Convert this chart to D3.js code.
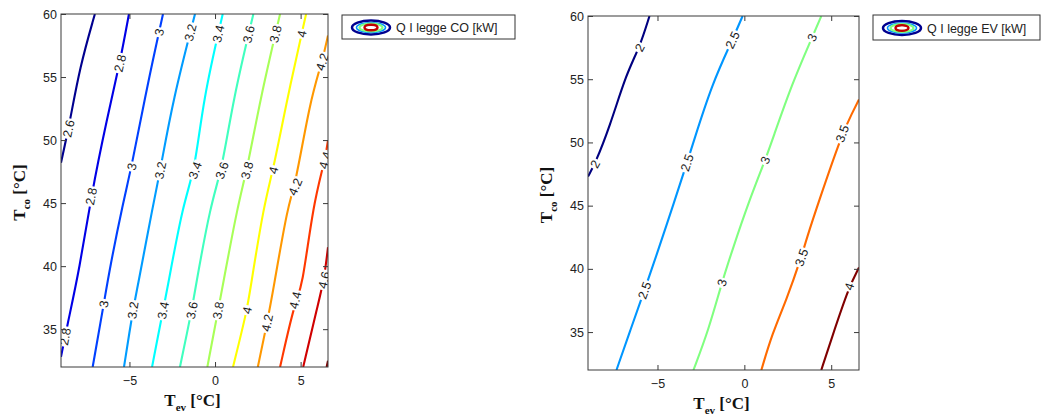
<!DOCTYPE html>
<html><head><meta charset="utf-8">
<script src="https://cdn.jsdelivr.net/npm/d3@7"></script>
<style>body{margin:0;background:#fff}</style>
</head><body><svg id="c" width="1046" height="416"></svg>
<script>
// ---------- data ----------
const xTicks = [-5, 0, 5];
const yTicks = [35, 40, 45, 50, 55, 60];
const xDomain = [-9, 6.6];
const yDomain = [32, 60];

// Left panel: Q I legge CO [kW]
const coLevels = [2.6, 2.8, 3, 3.2, 3.4, 3.6, 3.8, 4, 4.2, 4.4, 4.6, 4.8];
const coColors = ["#00008f", "#0000e6", "#0040ff", "#009cff", "#00ffff", "#40ffbf",
                  "#a8ff58", "#ffff00", "#ff9800", "#ff3800", "#d00000", "#800000"];
const coLines = [
  [[-9.0,48.2],[-8.5,51.3],[-7.9,55.8],[-7.02,60]],
  [[-9.0,32.8],[-8.65,35.2],[-7.9,39.9],[-7.25,45.5],[-6.3,51.8],[-5.56,56.1],[-5.03,60]],
  [[-7.15,32],[-6.5,37.0],[-6.14,39.9],[-5.38,45.0],[-4.87,47.9],[-3.98,54.2],[-3.04,60]],
  [[-5.32,32],[-4.8,36.5],[-4.56,38.1],[-3.6,45.0],[-3.2,47.6],[-2.46,53.2],[-1.17,60]],
  [[-3.68,32],[-3.04,36.5],[-2.8,38.1],[-1.87,45.0],[-1.17,47.6],[-0.70,53.2],[0.45,60]],
  [[-2.05,32],[-1.36,36.5],[-1.17,38.1],[-0.25,45.0],[0.40,47.6],[1.05,53.2],[2.24,60]],
  [[-0.45,32],[0.18,36.5],[0.40,38.1],[1.35,45.0],[1.87,47.6],[2.63,53.2],[3.80,60]],
  [[1.05,32],[1.87,36.5],[2.05,38.1],[2.87,45.0],[3.40,47.6],[4.20,53.2],[5.32,60]],
  [[2.50,32],[3.04,35.5],[3.40,38.1],[4.27,45.0],[4.68,46.3],[5.56,53.2],[6.26,56.2],[6.6,58.3]],
  [[3.80,32],[4.68,37.3],[5.08,38.1],[5.74,45.0],[6.43,48.4],[6.6,50.0]],
  [[5.15,32],[6.0,36.9],[6.37,38.9],[6.6,41.5]],
  [[6.52,32],[6.6,32.5]]
];
const coLabels = [
  [[-8.52,50.9]],
  [[-5.56,56.1],[-7.13,45.5],[-8.7,34.4]],
  [[-3.1,58.5],[-4.87,47.9],[-6.5,37.0]],
  [[-1.36,58.5],[-3.2,47.6],[-4.8,36.5]],
  [[0.29,58.4],[-1.17,47.6],[-3.04,36.5]],
  [[1.95,58.4],[0.40,47.6],[-1.36,36.5]],
  [[3.57,58.4],[1.87,47.6],[0.18,36.5]],
  [[5.15,58.4],[3.40,47.6],[1.87,36.5]],
  [[6.26,56.2],[4.68,46.3],[3.04,35.5]],
  [[6.43,48.4],[4.68,37.3]],
  [[6.37,38.9]],
  []
];

// Right panel: Q I legge EV [kW]
const evLevels = [2, 2.5, 3, 3.5, 4];
const evColors = ["#000080", "#0096ff", "#80ff80", "#ff6a00", "#800000"];
const evLines = [
  [[-9.0,47.3],[-8.6,48.3],[-7.76,51.2],[-6.78,55.5],[-6.03,57.5],[-5.46,60]],
  [[-7.36,32],[-6.55,35.2],[-5.75,38.3],[-5.1,40.9],[-4.0,45.44],[-3.3,48.4],[-2.95,49.95],[-1.84,54.7],[-0.69,58.1],[-0.10,60]],
  [[-2.93,32],[-2.05,35.2],[-1.3,38.9],[-0.69,41.5],[0.29,45.44],[1.2,48.6],[1.61,50.2],[2.76,54.7],[3.90,58.3],[4.43,60]],
  [[0.98,32],[1.61,34.9],[2.41,37.5],[3.28,40.9],[3.56,42.3],[4.31,45.44],[5.63,50.7],[6.2,52.3],[6.6,53.4]],
  [[4.43,32],[5.0,34.4],[6.03,38.6],[6.6,40.1]]
];
const evLabels = [
  [[-6.03,57.5],[-8.6,48.3]],
  [[-0.69,58.1],[-3.3,48.4],[-5.75,38.3]],
  [[3.90,58.3],[1.2,48.6],[-1.3,38.9]],
  [[5.63,50.7],[3.28,40.9]],
  [[6.03,38.6]]
];

// ---------- drawing ----------
const svg = d3.select("#c");

function drawPanel(box, levels, colors, lines, labels, id) {
  const x = d3.scaleLinear().domain(xDomain).range([box.x0, box.x1]);
  const y = d3.scaleLinear().domain(yDomain).range([box.y1, box.y0]);
  const g = svg.append("g");
  g.append("clipPath").attr("id", "clip" + id).append("rect")
    .attr("x", box.x0).attr("y", box.y0).attr("width", box.x1 - box.x0).attr("height", box.y1 - box.y0);
  const plot = g.append("g").attr("clip-path", `url(#clip${id})`);
  const line = d3.line().x(d => x(d[0])).y(d => y(d[1])).curve(d3.curveBasis);
  lines.forEach((pts, i) => {
    plot.append("path").attr("d", line(pts)).attr("fill", "none")
      .attr("stroke", colors[i]).attr("stroke-width", 2.1).attr("stroke-linejoin", "round");
  });
  // labels
  labels.forEach((labs, i) => {
    const pts = lines[i].map(d => [x(d[0]), y(d[1])]);
    labs.forEach(lp => {
      const px = x(lp[0]), py = y(lp[1]);
      let best = null, bd = Infinity;
      for (let k = 0; k < pts.length - 1; k++) {
        const a = pts[k], b = pts[k + 1];
        const dx = b[0] - a[0], dy = b[1] - a[1];
        let t = ((px - a[0]) * dx + (py - a[1]) * dy) / (dx * dx + dy * dy);
        t = Math.max(0, Math.min(1, t));
        const qx = a[0] + t * dx, qy = a[1] + t * dy;
        const dd = (qx - px) ** 2 + (qy - py) ** 2;
        if (dd < bd) { bd = dd; best = { qx, qy, ang: Math.atan2(dy, dx) * 180 / Math.PI }; }
      }
      let ang = best.ang;
      if (ang > 90) ang -= 180;
      if (ang < -90) ang += 180;
      const lg = plot.append("g").attr("transform", `translate(${best.qx},${best.qy}) rotate(${ang})`);
      const rect = lg.append("rect").attr("fill", "#fff");
      const t = lg.append("text").text(String(levels[i]))
        .attr("text-anchor", "middle").attr("dy", "0.36em")
        .attr("font-family", "Arial, 'Liberation Sans', sans-serif").attr("font-size", 12.5)
        .attr("fill", "#1a1a1a");
      const bb = t.node().getBBox();
      rect.attr("x", bb.x - 1.5).attr("y", -4).attr("width", bb.width + 3).attr("height", 8);
    });
  });
  // frame
  g.append("rect").attr("x", box.x0).attr("y", box.y0).attr("width", box.x1 - box.x0)
    .attr("height", box.y1 - box.y0).attr("fill", "none").attr("stroke", "#3a3a3a").attr("stroke-width", 1);
  const tl = 5;
  const axStyle = sel => {
    sel.select(".domain").remove();
    sel.selectAll(".tick line").attr("stroke", "#3a3a3a");
    sel.selectAll(".tick text").attr("font-family", "Arial, 'Liberation Sans', sans-serif")
      .attr("font-size", 12.5).attr("fill", "#222");
  };
  g.append("g").attr("transform", `translate(0,${box.y1})`)
    .call(d3.axisBottom(x).tickValues(xTicks).tickSize(-tl).tickPadding(9).tickFormat(d3.format("d")))
    .call(axStyle);
  g.append("g").attr("transform", `translate(0,${box.y0})`)
    .call(d3.axisTop(x).tickValues(xTicks).tickSize(-tl).tickFormat(""))
    .call(axStyle);
  g.append("g").attr("transform", `translate(${box.x0},0)`)
    .call(d3.axisLeft(y).tickValues(yTicks).tickSize(-tl).tickPadding(4).tickFormat(d3.format("d")))
    .call(axStyle);
  g.append("g").attr("transform", `translate(${box.x1},0)`)
    .call(d3.axisRight(y).tickValues(yTicks).tickSize(-tl).tickFormat(""))
    .call(axStyle);

  // axis titles
  const serif = "'Times New Roman', 'Liberation Serif', serif";
  const xt = g.append("text").attr("x", (box.x0 + box.x1) / 2 - 2).attr("y", box.y1 + 39)
    .attr("text-anchor", "middle").attr("font-family", serif).attr("font-weight", "bold")
    .attr("font-size", 17).attr("fill", "#111");
  xt.append("tspan").text("T");
  xt.append("tspan").text("ev").attr("font-size", 11).attr("dy", 5);
  xt.append("tspan").text(" [°C]").attr("dy", -5);
  const yt = g.append("text")
    .attr("transform", `translate(${box.x0 - 36},${(box.y0 + box.y1) / 2 + 2}) rotate(-90)`)
    .attr("text-anchor", "middle").attr("font-family", serif).attr("font-weight", "bold")
    .attr("font-size", 17).attr("fill", "#111");
  yt.append("tspan").text("T");
  yt.append("tspan").text("co").attr("font-size", 11).attr("dy", 5);
  yt.append("tspan").text(" [°C]").attr("dy", -5);
}

function drawLegend(lb, label) {
  const g = svg.append("g");
  g.append("rect").attr("x", lb.x).attr("y", lb.y).attr("width", lb.w).attr("height", lb.h)
    .attr("fill", "#fff").attr("stroke", "#333").attr("stroke-width", 1);
  const cx = lb.x + 29, cy = lb.y + lb.h / 2 + 0.5;
  const rings = [[19, 7, "#00008f", 2.5], [14.5, 5, "#0090ff", 1.6], [11.5, 4, "#80ff80", 2.2], [6.5, 2.8, "#c00000", 2.4]];
  rings.forEach(r => g.append("ellipse").attr("cx", cx).attr("cy", cy).attr("rx", r[0]).attr("ry", r[1])
    .attr("fill", "none").attr("stroke", r[2]).attr("stroke-width", r[3]));
  g.append("ellipse").attr("cx", cx).attr("cy", cy).attr("rx", 4).attr("ry", 1.2).attr("fill", "#fff");
  g.append("text").attr("x", lb.x + 54).attr("y", cy + 4.5).text(label)
    .attr("font-family", "Arial, 'Liberation Sans', sans-serif").attr("font-size", 12.5).attr("fill", "#222");
}

drawPanel({ x0: 61, x1: 328, y0: 14, y1: 367 }, coLevels, coColors, coLines, coLabels, "L");
drawPanel({ x0: 588, x1: 859, y0: 16, y1: 370 }, evLevels, evColors, evLines, evLabels, "R");
drawLegend({ x: 342, y: 15, w: 173, h: 24 }, "Q I legge CO [kW]");
drawLegend({ x: 873, y: 15, w: 167, h: 25 }, "Q I legge EV [kW]");
</script>
</body></html>
